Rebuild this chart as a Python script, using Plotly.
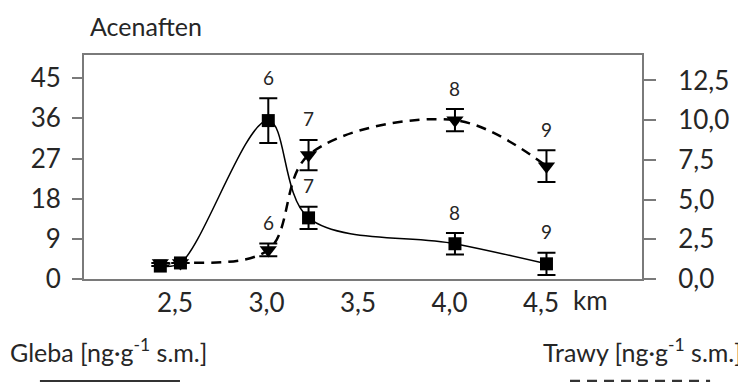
import plotly.graph_objects as go

# ---- data ----
distance_km = [2.42, 2.53, 3.01, 3.23, 4.03, 4.53]
soil_values = [2.9, 3.6, 35.5, 13.7, 7.9, 3.4]          # Gleba, left axis
soil_errors = [None, None, 5.0, 2.5, 2.4, 2.5]
grass_values = [1.0, 1.0, 1.83, 7.8, 10.0, 7.1]          # Trawy, right axis
grass_errors = [None, None, 0.4, 0.95, 0.7, 1.0]
point_labels = ["", "", "6", "7", "8", "9"]

x_tickvals = [2.5, 3.0, 3.5, 4.0, 4.5]
x_ticktext = ["2,5", "3,0", "3,5", "4,0", "4,5"]
left_tickvals = [0, 9, 18, 27, 36, 45]
left_ticktext = ["0", "9", "18", "27", "36", "45"]
right_tickvals = [0, 2.5, 5.0, 7.5, 10.0, 12.5]
right_ticktext = ["0,0", "2,5", "5,0", "7,5", "10,0", "12,5"]

FONT = "Lato"
AXC = "#7a7a7a"
TXT = "#262626"

fig = go.Figure()

fig.add_trace(go.Scatter(
    x=distance_km, y=grass_values, yaxis="y2", mode="lines+markers",
    line=dict(color="black", width=2.5, dash="10px,7px", shape="spline", smoothing=1.0),
    marker=dict(symbol="triangle-down", size=15, color="black"),
    error_y=dict(type="data", array=grass_errors, visible=True, color="black",
                 thickness=2, width=9),
    showlegend=False, cliponaxis=False,
))
fig.add_trace(go.Scatter(
    x=distance_km, y=soil_values, yaxis="y", mode="lines+markers",
    line=dict(color="black", width=1.5, shape="spline", smoothing=1.0),
    marker=dict(symbol="square", size=13, color="black"),
    error_y=dict(type="data", array=soil_errors, visible=True, color="black",
                 thickness=2, width=9),
    showlegend=False, cliponaxis=False,
))

annotations = []
for xv, v, e, lab in zip(distance_km, soil_values, soil_errors, point_labels):
    if lab:
        annotations.append(dict(x=xv, y=v + (e or 0), xref="x", yref="y", text=lab,
                                showarrow=False, yanchor="middle", yshift=21,
                                font=dict(family=FONT, size=19, color=TXT)))
for xv, v, e, lab in zip(distance_km, grass_values, grass_errors, point_labels):
    if lab:
        annotations.append(dict(x=xv, y=v + (e or 0), xref="x", yref="y2", text=lab,
                                showarrow=False, yanchor="middle", yshift=21,
                                font=dict(family=FONT, size=19, color=TXT)))

annotations += [
    dict(x=0.007, y=1.13, xref="paper", yref="paper", text="Acenaften", showarrow=False,
         xanchor="left", yanchor="middle", font=dict(family=FONT, size=25, color=TXT)),
    dict(x=-0.136, y=-0.317, xref="paper", yref="paper",
         text="Gleba [ng·g<sup>-1</sup> s.m.]", showarrow=False,
         xanchor="left", yanchor="middle", font=dict(family=FONT, size=25, color=TXT)),
    dict(x=1.183, y=-0.317, xref="paper", yref="paper",
         text="Trawy [ng·g<sup>-1</sup> s.m.]", showarrow=False,
         xanchor="right", yanchor="middle", font=dict(family=FONT, size=25, color=TXT)),
    dict(x=0.908, y=-0.092, xref="paper", yref="paper", text="km", showarrow=False,
         xanchor="center", yanchor="middle", font=dict(family=FONT, size=26, color=TXT)),
]

shapes = [
    # legend line samples at the bottom edge
    dict(type="line", xref="paper", yref="paper", x0=-0.079, x1=0.172, y0=-0.455, y1=-0.455,
         line=dict(color="#333", width=2)),
    dict(type="line", xref="paper", yref="paper", x0=0.871, x1=1.122, y0=-0.455, y1=-0.455,
         line=dict(color="#333", width=2.5, dash="10px,7px")),
]

# page body has an 8px default margin: shift/shrink the figure to keep the
# plot area at the same place in the 746x382 window
fig.update_layout(
    width=738, height=374,
    margin=dict(l=76, r=104, t=47, b=103),
    paper_bgcolor="white", plot_bgcolor="white",
    font=dict(family=FONT, color=TXT),
    xaxis=dict(range=[2.003, 5.052], tickvals=x_tickvals, ticktext=x_ticktext,
               showline=True, linecolor=AXC, linewidth=2, mirror=True,
               ticks="", showgrid=False, zeroline=False,
               tickfont=dict(family=FONT, size=26, color=TXT), ticklabelstandoff=0),
    yaxis=dict(range=[0, 50.2], tickvals=left_tickvals, ticktext=left_ticktext,
               showline=True, linecolor=AXC, linewidth=2, ticks="outside",
               ticklen=10, tickwidth=2, tickcolor=AXC, showgrid=False, zeroline=False,
               tickfont=dict(family=FONT, size=26, color=TXT), ticklabelstandoff=6),
    yaxis2=dict(range=[0, 14.1], tickvals=right_tickvals, ticktext=right_ticktext,
                overlaying="y", side="right",
                showline=True, linecolor=AXC, linewidth=2, ticks="outside",
                ticklen=12, tickwidth=2, tickcolor=AXC, showgrid=False, zeroline=False,
                tickfont=dict(family=FONT, size=26, color=TXT), ticklabelstandoff=17),
    annotations=annotations,
    shapes=shapes,
    showlegend=False,
)

fig.write_html("out.html")
